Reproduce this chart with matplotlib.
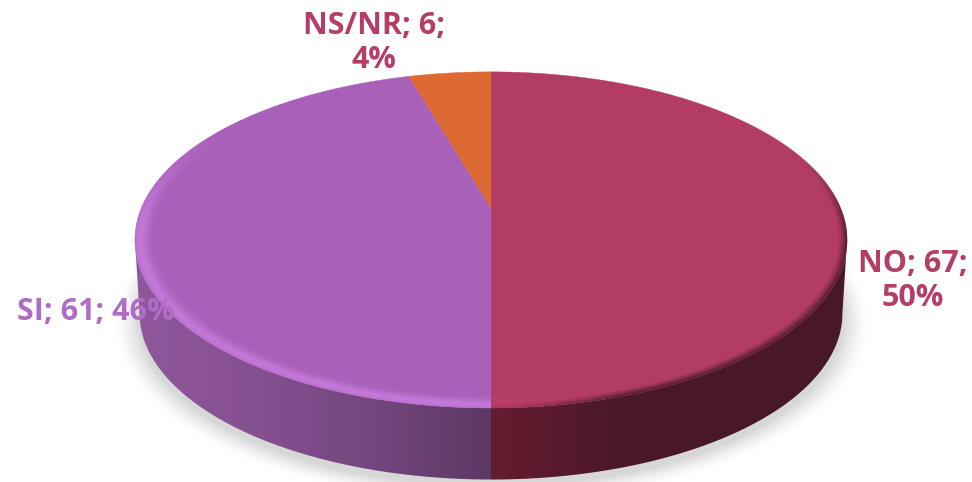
import numpy as np
import matplotlib
matplotlib.use('Agg')
import matplotlib.pyplot as plt
from matplotlib.patches import Polygon
from matplotlib.colors import LinearSegmentedColormap

categories = ['NO', 'SI', 'NS/NR']
values = [67, 61, 6]
face_colors = ['#b33c64', '#a860b8', '#dc6a32']
text_colors = ['#b53d66', '#b06cc6', '#b53d66']
label_breaks = ['; ', None, '; ']

W, H = 972, 482
k = 0.19  # perspective of the disc

top = dict(cx=491.0, cy=208.0, A=162.0, B=349.6)
bottom = dict(cx=491.0, cy=282.0, A=160.0, B=345.0)


def project(theta, e):
    # theta is clockwise from 12 o'clock
    u = np.sin(theta)
    v = np.cos(theta)
    return e['cx'] + e['B'] * u / (1 + k * v), e['cy'] - e['A'] * v / (1 + k * v)


def wedge_points(t0, t1, e, with_apex=True):
    t = np.linspace(t0, t1, 300)
    x, y = project(t, e)
    pts = np.column_stack([x, y])
    if with_apex:
        pts = np.vstack([[e['cx'], e['cy']], pts])
    return pts


fig = plt.figure(figsize=(W / 100, H / 100), dpi=100)
ax = fig.add_axes([0, 0, 1, 1])
ax.set_xlim(0, W)
ax.set_ylim(H, 0)
ax.axis('off')

X, Y = np.meshgrid(np.arange(W) + 0.5, np.arange(H) + 0.5)
extent = [0, W, H, 0]

# soft floor shadow
dx = (X - bottom['cx']) / bottom['B']
dy = (bottom['cy'] + 6 - Y) / bottom['A']
v = dy / (1 - k * dy)
u = dx * (1 + k * v)
r = np.sqrt(u ** 2 + v ** 2)
shadow = np.clip((1.07 - r) / 0.07, 0, 1) ** 1.5 * np.clip((Y - 235) / 45, 0, 1)
shadow_img = np.zeros((H, W, 4))
shadow_img[..., :3] = 0.72
shadow_img[..., 3] = shadow * 0.55
ax.imshow(shadow_img, extent=extent, zorder=1, aspect='auto')

# slice angles from the values
fracs = np.array(values) / sum(values)
edges = np.concatenate([[0], np.cumsum(fracs)]) * 2 * np.pi

# side wall, only the front part can be seen
front0 = np.arccos(-k)
front1 = 2 * np.pi - np.arccos(-k)
side_stops = {
    'NO': ['#651c30', '#4c1828', '#481826', '#481826'],
    'SI': ['#8f589e', '#85508f', '#74467f', '#5c3864'],
}
side_range = {'NO': (491, 850), 'SI': (135, 491)}
for i, cat in enumerate(categories):
    t0 = max(edges[i], front0)
    t1 = min(edges[i + 1], front1)
    if t1 <= t0 or cat not in side_stops:
        continue
    pts = np.vstack([wedge_points(t0, t1, top, False),
                     wedge_points(t0, t1, bottom, False)[::-1]])
    clip = Polygon(pts, closed=True, transform=ax.transData, fc='none', ec='none')
    ax.add_patch(clip)
    cmap = LinearSegmentedColormap.from_list(cat, side_stops[cat])
    x0, x1 = side_range[cat]
    im = ax.imshow(np.linspace(0, 1, 256).reshape(1, -1), cmap=cmap, aspect='auto',
                   extent=[x0, x1, H, 0], zorder=2)
    im.set_clip_path(clip)
ax.set_xlim(0, W)
ax.set_ylim(H, 0)

# top face
face_patches = []
for i, cat in enumerate(categories):
    p = Polygon(wedge_points(edges[i], edges[i + 1], top), closed=True,
                fc=face_colors[i], ec=face_colors[i], lw=0.3, zorder=3)
    ax.add_patch(p)
    face_patches.append(p)

# bevel on the rim of the face
dx = (X - top['cx']) / top['B']
dy = (top['cy'] - Y) / top['A']
v = dy / (1 - k * dy)
u = dx * (1 + k * v)
r = np.sqrt(u ** 2 + v ** 2)

glow = np.exp(-((r - 0.985) / 0.022) ** 2)
glow = glow * np.clip((0.5 - v) / 0.6, 0, 1)
purple = np.zeros((H, W, 4))
purple[..., 0], purple[..., 1], purple[..., 2] = 214 / 255, 136 / 255, 240 / 255
purple[..., 3] = np.clip(glow * 0.6, 0, 1)
im = ax.imshow(purple, extent=extent, zorder=4, aspect='auto')
im.set_clip_path(face_patches[1])

edge_dark = np.clip((r - 0.972) / 0.028, 0, 1) ** 1.3
edge_dark = edge_dark * np.clip((u + 0.05) / 0.35, 0, 1) * np.clip((0.3 - v) / 0.4, 0, 1)
maroon = np.zeros((H, W, 4))
maroon[..., 0], maroon[..., 1], maroon[..., 2] = 72 / 255, 24 / 255, 38 / 255
maroon[..., 3] = edge_dark
im = ax.imshow(maroon, extent=extent, zorder=4, aspect='auto')
im.set_clip_path(face_patches[0])

lit = np.exp(-((r - 0.98) / 0.02) ** 2) * np.clip((0.3 - u) / 0.3, 0, 1) * (v < 0)
rose = np.zeros((H, W, 4))
rose[..., 0], rose[..., 1], rose[..., 2] = 196 / 255, 64 / 255, 104 / 255
rose[..., 3] = lit * 0.6
im = ax.imshow(rose, extent=extent, zorder=4, aspect='auto')
im.set_clip_path(face_patches[0])
ax.set_xlim(0, W)
ax.set_ylim(H, 0)

# data labels
pct = [round(100 * val / sum(values)) for val in values]
label_pos = [(913, 281), (96, 312), (374, 43)]
for i, cat in enumerate(categories):
    if label_breaks[i]:
        s = f'{cat}; {values[i]};\n{pct[i]}%'
    else:
        s = f'{cat}; {values[i]}; {pct[i]}%'
    ax.text(label_pos[i][0], label_pos[i][1], s, color=text_colors[i], ha='center',
            va='center', fontsize=22, family='Open Sans', weight='bold', linespacing=1.2,
            multialignment='center', zorder=6)

fig.savefig('out.png', dpi=100)
